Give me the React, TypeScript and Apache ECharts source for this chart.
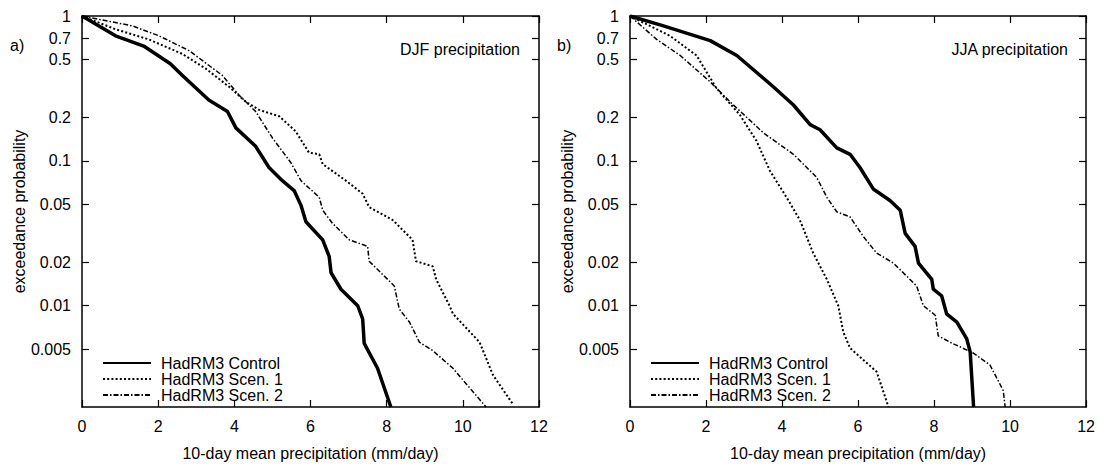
import React, { useEffect, useRef } from "react";
import * as echarts from "echarts";

// ---- data (x: 10-day mean precipitation mm/day, p: exceedance probability)
const seriesNames = ["HadRM3 Control", "HadRM3 Scen. 1", "HadRM3 Scen. 2"];

const djfControlX = [0, 0.88, 1.62, 2.32, 2.63, 3.33, 3.82, 4.04, 4.56, 4.91, 5.26, 5.57, 5.75, 5.88, 6.32, 6.49, 6.54, 6.8, 7.24, 7.37, 7.41, 7.76, 8.11];
const djfControlP = [1, 0.73, 0.62, 0.468, 0.39, 0.263, 0.219, 0.169, 0.126, 0.09, 0.073, 0.0624, 0.0493, 0.038, 0.0285, 0.0219, 0.0169, 0.013, 0.01, 0.0081, 0.0055, 0.0037, 0.002];

const djfScen1X = [0, 0.88, 1.75, 2.63, 3.25, 3.86, 4.3, 4.65, 5.18, 5.61, 5.96, 6.23, 6.32, 6.93, 7.37, 7.54, 8.16, 8.68, 8.77, 9.21, 9.3, 9.65, 9.74, 10.44, 10.79, 11.32];
const djfScen1P = [1, 0.81, 0.69, 0.548, 0.433, 0.325, 0.256, 0.225, 0.203, 0.16, 0.114, 0.111, 0.095, 0.073, 0.0593, 0.048, 0.039, 0.0285, 0.0203, 0.0187, 0.0152, 0.01, 0.0088, 0.0056, 0.00333, 0.00208];

const djfScen2X = [0, 1.32, 2.02, 2.81, 3.68, 4.12, 4.56, 5.0, 5.48, 5.75, 6.23, 6.32, 6.58, 7.02, 7.5, 7.54, 8.2, 8.33, 8.6, 8.86, 9.21, 9.74, 10.61];
const djfScen2P = [1, 0.855, 0.73, 0.577, 0.39, 0.285, 0.219, 0.144, 0.0975, 0.073, 0.056, 0.0456, 0.037, 0.0285, 0.0257, 0.0203, 0.0137, 0.0095, 0.0077, 0.0056, 0.0049, 0.0037, 0.002];

const jjaControlX = [0, 0.88, 2.11, 2.81, 3.77, 4.3, 4.74, 5.0, 5.44, 5.79, 6.05, 6.4, 6.84, 7.11, 7.24, 7.5, 7.59, 7.94, 7.98, 8.2, 8.33, 8.6, 8.86, 8.95, 9.04];
const jjaControlP = [1, 0.855, 0.676, 0.534, 0.325, 0.243, 0.178, 0.164, 0.123, 0.111, 0.09, 0.064, 0.0533, 0.0456, 0.0316, 0.0257, 0.0197, 0.0152, 0.013, 0.0117, 0.0088, 0.0077, 0.0059, 0.0048, 0.002];

const jjaScen1X = [0, 1.05, 1.75, 2.28, 2.89, 3.33, 3.68, 4.12, 4.47, 4.82, 5.18, 5.48, 5.61, 5.79, 6.49, 6.8];
const jjaScen1P = [1, 0.73, 0.534, 0.316, 0.208, 0.137, 0.0855, 0.056, 0.039, 0.0231, 0.0152, 0.01, 0.0066, 0.0051, 0.0035, 0.002];

const jjaScen2X = [0, 0.7, 1.32, 2.11, 2.63, 3.51, 4.3, 4.91, 5.18, 5.44, 5.79, 6.14, 6.49, 6.93, 7.54, 7.72, 8.03, 8.11, 8.42, 9.04, 9.47, 9.82, 9.87];
const jjaScen2P = [1, 0.69, 0.534, 0.351, 0.256, 0.156, 0.111, 0.077, 0.056, 0.0445, 0.041, 0.03, 0.0231, 0.0197, 0.0137, 0.01, 0.0086, 0.0062, 0.0056, 0.0047, 0.0039, 0.0026, 0.002];

const xTicks = [0, 2, 4, 6, 8, 10, 12];
const yTickValues = [1, 0.7, 0.5, 0.2, 0.1, 0.05, 0.02, 0.01, 0.005];
const yTickLabels = ["1", "0.7", "0.5", "0.2", "0.1", "0.05", "0.02", "0.01", "0.005"];
const yMinProb = 0.002;

const panelLabels = ["a)", "b)"];
const panelTitles = ["DJF precipitation", "JJA precipitation"];
const xAxisTitle = "10-day mean precipitation (mm/day)";
const yAxisTitle = "exceedance probability";

const FONT = "'Liberation Sans', Arial, Helvetica, sans-serif";

function pts(xs: number[], ps: number[]) {
  return xs.map((x, i) => [x, Math.log10(ps[i])]);
}

const lineStyles = [
  { color: "#000", width: 3.5, type: "solid" as any },
  { color: "#000", width: 2, type: [2, 2.2] as any },
  { color: "#000", width: 1.5, type: [5, 2, 1.5, 2] as any },
];

export default function App() {
  const ref = useRef<HTMLDivElement>(null);
  useEffect(() => {
    if (!ref.current) return;
    const chart = echarts.init(ref.current, undefined, { renderer: "svg" });
    const grids = [
      { left: 82, top: 16, width: 457, height: 395 },
      { left: 630, top: 16, width: 457, height: 395 },
    ];
    const yLog = yTickValues.map((v) => Math.log10(v));
    const yFmt = (v: number) => {
      let best = 0;
      let bd = Infinity;
      yLog.forEach((t, i) => {
        const d = Math.abs(t - v);
        if (d < bd) { bd = d; best = i; }
      });
      return yTickLabels[best];
    };
    const axisLine = { show: true, onZero: false, lineStyle: { color: "#000", width: 1.5 } };
    const tick = { show: true, inside: true, length: 7, lineStyle: { color: "#000", width: 1.2 } };
    const xAxes: any[] = [];
    const yAxes: any[] = [];
    [0, 1].forEach((g) => {
      xAxes.push({
        type: "value", gridIndex: g, min: xTicks[0], max: xTicks[xTicks.length - 1], interval: 2, position: "bottom",
        axisLine, axisTick: tick, splitLine: { show: false },
        axisLabel: { color: "#000", fontSize: 16, fontFamily: FONT, margin: 11, showMinLabel: true, showMaxLabel: true },
        name: xAxisTitle, nameLocation: "middle", nameGap: 38,
        nameTextStyle: { color: "#000", fontSize: 16, fontFamily: FONT },
      });
      xAxes.push({
        type: "value", gridIndex: g, min: xTicks[0], max: xTicks[xTicks.length - 1], interval: 2, position: "top",
        axisLine, axisTick: tick, splitLine: { show: false }, axisLabel: { show: false },
      });
      yAxes.push({
        type: "value", gridIndex: g, min: Math.log10(yMinProb), max: 0, position: "left",
        axisLine, splitLine: { show: false },
        axisTick: { ...tick, customValues: yLog },
        axisLabel: { color: "#000", fontSize: 16, fontFamily: FONT, margin: 11, customValues: yLog, formatter: yFmt },
        name: yAxisTitle, nameLocation: "middle", nameGap: 55, nameRotate: 90,
        nameTextStyle: { color: "#000", fontSize: 16, fontFamily: FONT },
      });
      yAxes.push({
        type: "value", gridIndex: g, min: Math.log10(yMinProb), max: 0, position: "right",
        axisLine, splitLine: { show: false },
        axisTick: { ...tick, customValues: yLog },
        axisLabel: { show: false, customValues: yLog },
      });
    });
    const data = [
      [pts(djfControlX, djfControlP), pts(djfScen1X, djfScen1P), pts(djfScen2X, djfScen2P)],
      [pts(jjaControlX, jjaControlP), pts(jjaScen1X, jjaScen1P), pts(jjaScen2X, jjaScen2P)],
    ];
    const series: any[] = [];
    [0, 1].forEach((g) => {
      data[g].forEach((d, k) => {
        series.push({
          type: "line", name: seriesNames[k], xAxisIndex: g * 2, yAxisIndex: g * 2,
          data: d, symbol: "none", showSymbol: false, clip: true,
          lineStyle: { ...lineStyles[k], cap: "butt", join: "round" },
          itemStyle: { color: "#000" },
        });
      });
    });
    const legends = [0, 1].map((g) => ({
      orient: "vertical", left: grids[g].left + 15, top: 350,
      itemWidth: 48, itemHeight: 14, itemGap: 0,
      data: seriesNames,
      itemStyle: { opacity: 0 },
      textStyle: { color: "#000", fontSize: 16, fontFamily: FONT, padding: [0, 0, 0, 5], lineHeight: 16 },
      selectedMode: false,
    }));
    const graphic: any[] = [];
    [0, 1].forEach((g) => {
      graphic.push({
        type: "text", left: g === 0 ? 10 : 557, top: 37,
        style: { text: panelLabels[g], fill: "#000", fontSize: 16, fontFamily: FONT },
      });
      graphic.push({
        type: "text", x: grids[g].left + grids[g].width - 19, y: 49,
        style: { text: panelTitles[g], fill: "#000", fontSize: 16, fontFamily: FONT, align: "right", verticalAlign: "middle" },
      });
    });
    chart.setOption({
      animation: false,
      backgroundColor: "#fff",
      grid: grids,
      xAxis: xAxes,
      yAxis: yAxes,
      legend: legends,
      series,
      graphic,
    });
    return () => chart.dispose();
  }, []);
  return <div ref={ref} style={{ width: 1098, height: 466, position: "absolute", left: 0, top: 0 }} />;
}
